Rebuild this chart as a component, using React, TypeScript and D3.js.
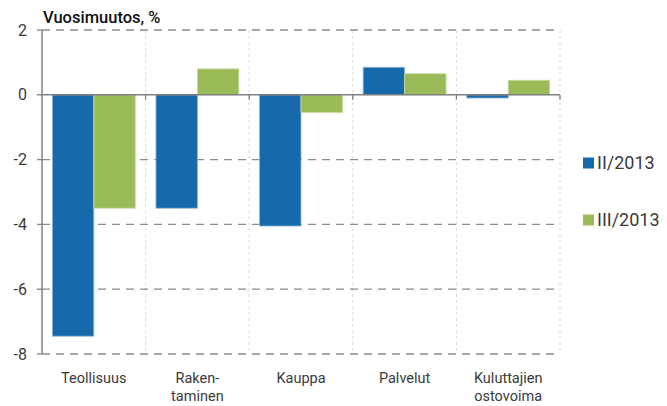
import React from "react";
import * as d3 from "d3";

const categories = ["Teollisuus", "Raken-\ntaminen", "Kauppa", "Palvelut", "Kuluttajien\nostovoima"];
const seriesNames = ["II/2013", "III/2013"];
const seriesII = [-7.45, -3.5, -4.05, 0.85, -0.1];
const seriesIII = [-3.5, 0.8, -0.55, 0.65, 0.45];
const yTicks = [2, 0, -2, -4, -6, -8];
const colors = ["#166aab", "#9bbb59"];

const W = 667, H = 406;
const left = 42, right = 560, top = 30, bottom = 354;

export default function App() {
  const x = d3.scaleBand<string>().domain(categories).range([left, right]).paddingInner(0).paddingOuter(0);
  const x1 = d3.scaleBand<string>().domain(seriesNames).range([0, x.bandwidth()]).paddingInner(0).paddingOuter(0.25);
  const y = d3.scaleLinear().domain([-8, 2]).range([bottom, top]);
  const data = [seriesII, seriesIII];
  const font = "Roboto, 'Open Sans', sans-serif";
  return (
    <svg width={W} height={H} style={{ display: "block", position: "absolute", left: 0, top: 0 }} fontFamily={font}>
      <rect width={W} height={H} fill="#fff" />
      {/* vertical separators */}
      {categories.map((c, i) => (
        <line key={"v" + i} x1={(x(c) as number) + x.bandwidth()} x2={(x(c) as number) + x.bandwidth()} y1={top} y2={bottom}
          stroke="#d9d9d9" strokeDasharray="3,3" strokeWidth={1} />
      ))}
      {/* horizontal grid */}
      {yTicks.filter(t => t !== 0).map(t => (
        <line key={"h" + t} x1={left} x2={right} y1={y(t)} y2={y(t)} stroke="#8c8c8c" strokeWidth={1.3} strokeDasharray="8,6" />
      ))}
      {/* bars */}
      {data.map((s, si) => s.map((v, i) => {
        const bx = (x(categories[i]) as number) + (x1(seriesNames[si]) as number);
        const y0 = y(Math.max(0, v));
        const h = Math.abs(y(v) - y(0));
        return <rect key={si + "-" + i} x={bx} y={y0} width={x1.bandwidth()} height={h} fill={colors[si]}
          stroke={si === 0 ? "#8fb6d8" : "#c8dba8"} strokeWidth={0.8} />;
      }))}
      {/* zero line */}
      <line x1={left} x2={right} y1={y(0)} y2={y(0)} stroke="#808080" strokeWidth={1.5} />
      {categories.map((c, i) => (
        <line key={"t" + i} x1={(x(c) as number) + x.bandwidth()} x2={(x(c) as number) + x.bandwidth()} y1={y(0)} y2={y(0) + 5}
          stroke="#808080" strokeWidth={1.3} />
      ))}
      {/* y axis */}
      <line x1={left} x2={left} y1={top} y2={bottom} stroke="#808080" strokeWidth={1.5} />
      {yTicks.map(t => (
        <g key={"yt" + t}>
          <line x1={left - 5} x2={left} y1={y(t)} y2={y(t)} stroke="#808080" strokeWidth={1.3} />
          <text x={27} y={y(t)} dy="0.35em" textAnchor="end" fontSize={16} fill="#3a3a3a">{t}</text>
        </g>
      ))}
      {/* category labels */}
      {categories.map((c, i) => (
        <text key={"c" + i} x={(x(c) as number) + x.bandwidth() / 2} y={383} textAnchor="middle" fontSize={14.5} fill="#3a3a3a">
          {c.split("\n").map((line, li) => (
            <tspan key={li} x={(x(c) as number) + x.bandwidth() / 2} dy={li === 0 ? 0 : 18}>{line}</tspan>
          ))}
        </text>
      ))}
      {/* title */}
      <text x={43} y={23} fontSize={16.5} fontWeight={500} fill="#111">Vuosimuutos, %</text>
      {/* legend */}
      {seriesNames.map((n, i) => (
        <g key={"l" + i} transform={`translate(583, ${163 + i * 57})`}>
          <rect x={0} y={-5.5} width={11} height={11} fill={colors[i]} />
          <text x={14} y={0} dy="0.35em" fontSize={18} fill="#3a3a3a">{n}</text>
        </g>
      ))}
    </svg>
  );
}
